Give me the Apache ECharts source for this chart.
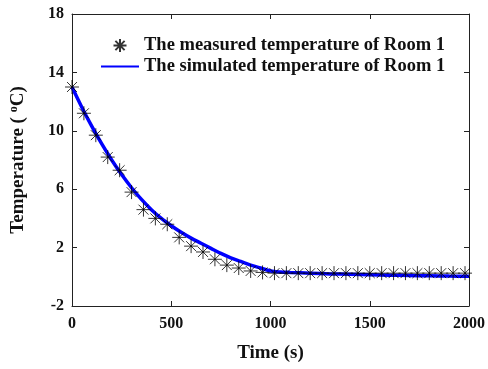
<!DOCTYPE html>
<html>
<head>
<meta charset="utf-8">
<script src="https://cdn.jsdelivr.net/npm/echarts@6/dist/echarts.min.js"></script>
<style>
  html, body { margin: 0; padding: 0; background: #fff; }
  #chart { width: 488px; height: 369px; }
</style>
</head>
<body>
<div id="chart"></div>
<script>
// measured temperature, one reading every 60 s
const measuredTime = [0, 60, 120, 180, 240, 300, 360, 420, 480, 540, 600, 660, 720, 780, 840, 900, 960,
  1020, 1080, 1140, 1200, 1260, 1320, 1380, 1440, 1500, 1560, 1620, 1680, 1740, 1800, 1860, 1920, 1980]
const measuredTemp = [13.0, 11.2, 9.7, 8.2, 7.3, 5.8, 4.6, 4.0, 3.6, 2.7, 2.1, 1.7, 1.2, 0.8, 0.6, 0.4, 0.3,
  0.25, 0.25, 0.25, 0.25, 0.25, 0.25, 0.25, 0.25, 0.25, 0.25, 0.25, 0.25, 0.25, 0.25, 0.25, 0.25, 0.25]

// simulated temperature
const simTime = [0, 50, 100, 150, 200, 250, 300, 350, 400, 450, 500, 550, 600, 650, 700, 750, 800, 850, 900, 950,
  1000, 1050, 1100, 1200, 1300, 1400, 1500, 1600, 1700, 1800, 1900, 2000]
const simTemp = [13.0, 11.6, 10.3, 9.1, 8.0, 7.0, 6.1, 5.3, 4.6, 4.0, 3.5, 3.05, 2.65, 2.3, 1.95, 1.6, 1.3, 1.05, 0.8, 0.6,
  0.4, 0.33, 0.3, 0.25, 0.2, 0.17, 0.14, 0.11, 0.09, 0.07, 0.05, 0.04]

const xTicks = [0, 500, 1000, 1500, 2000]
const yTicks = [-2, 2, 6, 10, 14, 18]

const font = '"Liberation Serif", "Times New Roman", serif'
const asterisk = 'path://M0,-1L0,1M-1,0L1,0M-0.71,-0.71L0.71,0.71M-0.71,0.71L0.71,-0.71'

const chart = echarts.init(document.getElementById('chart'))

// fresh objects for each axis
const axisLine = () => ({ show: true, onZero: false, lineStyle: { color: '#222', width: 1 } })
const axisTick = () => ({ show: true, inside: true, length: 5, lineStyle: { color: '#222' } })
const labelStyle = margin => ({ margin, fontFamily: font, fontSize: 16, fontWeight: 'bold', color: '#111', formatter: v => String(v) })

chart.setOption({
  animation: false,
  grid: { left: 70, right: 18, top: 14, bottom: 63 },
  legend: {
    left: 96,
    top: 31,
    orient: 'vertical',
    itemWidth: 38,
    itemHeight: 13,
    itemGap: 2,
    textStyle: { fontFamily: font, fontSize: 18.5, fontWeight: 'bold', color: '#111' },
    data: [
      { name: 'The measured temperature of Room 1' },
      { name: 'The simulated temperature of Room 1', icon: 'path://M0,0L20,0L20,1L0,1Z' }
    ]
  },
  xAxis: [
    {
      type: 'value',
      min: xTicks[0],
      max: xTicks[xTicks.length - 1],
      interval: 500,
      name: 'Time (s)',
      nameLocation: 'middle',
      nameGap: 38,
      nameTextStyle: { fontFamily: font, fontSize: 19, fontWeight: 'bold', color: '#111' },
      axisLine: axisLine(), axisTick: axisTick(),
      splitLine: { show: false },
      axisLabel: labelStyle(10)
    },
    {
      type: 'value', position: 'top',
      min: xTicks[0], max: xTicks[xTicks.length - 1], interval: 500,
      axisLine: axisLine(), axisTick: axisTick(),
      splitLine: { show: false },
      axisLabel: { show: false }
    }
  ],
  yAxis: [
    {
      type: 'value',
      min: yTicks[0],
      max: yTicks[yTicks.length - 1],
      interval: 4,
      name: '{n|Temperature ( }{s|o}{n|C)}',
      nameLocation: 'middle',
      nameGap: 44,
      nameTextStyle: {
        rich: {
          n: { fontFamily: font, fontSize: 19, fontWeight: 'bold', color: '#111' },
          s: { fontFamily: font, fontSize: 12, fontWeight: 'bold', color: '#111', verticalAlign: 'top', padding: [0, 0, 8, 0] }
        }
      },
      axisLine: axisLine(), axisTick: axisTick(),
      splitLine: { show: false },
      axisLabel: labelStyle(8)
    },
    {
      type: 'value', position: 'right',
      min: yTicks[0], max: yTicks[yTicks.length - 1], interval: 4,
      axisLine: axisLine(), axisTick: axisTick(),
      splitLine: { show: false },
      axisLabel: { show: false }
    }
  ],
  series: [
    {
      name: 'The simulated temperature of Room 1',
      type: 'line',
      symbol: 'none',
      smooth: 0.3,
      z: 2,
      lineStyle: { color: '#0000ff', width: 3.5 },
      itemStyle: { color: '#0000ff' },
      data: simTime.map((t, i) => [t, simTemp[i]])
    },
    {
      name: 'The measured temperature of Room 1',
      type: 'scatter',
      symbol: asterisk,
      symbolSize: 14,
      z: 3,
      itemStyle: { color: 'none', borderColor: '#000', borderWidth: 1 },
      data: measuredTime.map((t, i) => [t, measuredTemp[i]])
    }
  ]
})
</script>
</body>
</html>
